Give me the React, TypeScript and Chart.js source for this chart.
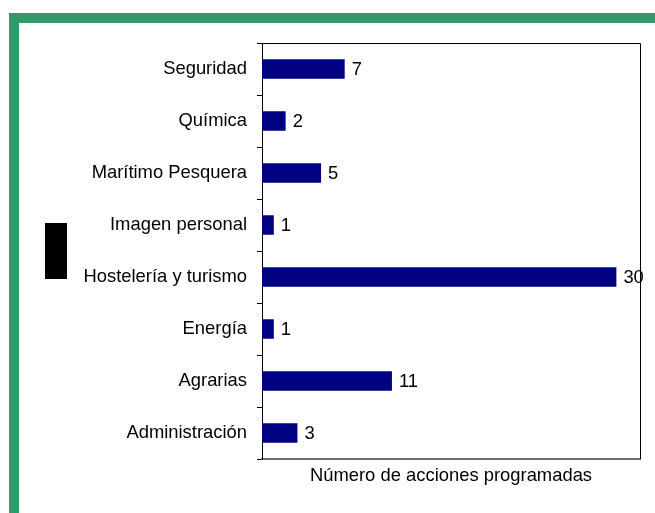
import React, { useEffect, useRef } from "react";
import { Chart, registerables } from "chart.js";

Chart.register(...registerables);

const categories = [
  "Seguridad",
  "Química",
  "Marítimo Pesquera",
  "Imagen personal",
  "Hostelería y turismo",
  "Energía",
  "Agrarias",
  "Administración",
];
const values = [7, 2, 5, 1, 30, 1, 11, 3];
const axisTitle = "Número de acciones programadas";
const xMax = 32;

const FONT = "'Liberation Sans', Arial, sans-serif";
const FS = 18.4;

const boxPlugin = {
  id: "boxAndLabels",
  afterDatasetsDraw(chart: any) {
    const { ctx, chartArea } = chart;
    ctx.save();
    ctx.strokeStyle = "#000";
    ctx.lineWidth = 1;
    ctx.beginPath();
    ctx.moveTo(Math.round(chartArea.left) + 0.5, Math.round(chartArea.top) + 0.5);
    ctx.lineTo(Math.round(chartArea.right) + 0.5, Math.round(chartArea.top) + 0.5);
    ctx.lineTo(Math.round(chartArea.right) + 0.5, Math.round(chartArea.bottom));
    ctx.stroke();
    const meta = chart.getDatasetMeta(0);
    ctx.fillStyle = "#000";
    ctx.font = `${FS}px ${FONT}`;
    ctx.textAlign = "left";
    ctx.textBaseline = "middle";
    meta.data.forEach((bar: any, i: number) => {
      ctx.fillText(String(values[i]), bar.x + 7, bar.y + 1);
    });
    ctx.restore();
  },
};

export default function App() {
  const ref = useRef<HTMLCanvasElement>(null);
  useEffect(() => {
    if (!ref.current) return;
    const chart = new Chart(ref.current, {
      type: "bar",
      data: {
        labels: categories,
        datasets: [
          {
            data: values,
            backgroundColor: "#000080",
            borderWidth: 0,
            barPercentage: 0.375,
            categoryPercentage: 1,
          },
        ],
      },
      options: {
        indexAxis: "y",
        responsive: false,
        animation: false,
        layout: { padding: { left: 0, top: 43, right: 15, bottom: 0 } },
        plugins: {
          legend: { display: false },
          tooltip: { enabled: false },
        },
        scales: {
          x: {
            min: 0,
            max: xMax,
            ticks: { display: false },
            grid: { display: false },
            border: { display: true, color: "#707070", width: 2 },
            title: {
              display: true,
              text: axisTitle,
              color: "#000",
              font: { family: FONT, size: FS },
              padding: { top: 0, bottom: 26.5 },
            },
            afterFit: (s: any) => {
              s.height = 54;
            },
          },
          y: {
            offset: true,
            grid: {
              offset: true,
              drawOnChartArea: false,
              drawTicks: true,
              tickLength: 5,
              color: "#000",
            },
            border: { display: true, color: "#000", width: 1 },
            ticks: {
              color: "#000",
              padding: 10,
              font: { family: FONT, size: FS },
            },
            afterFit: (s: any) => {
              s.width = 262;
            },
          },
        },
      },
      plugins: [boxPlugin],
    });
    return () => chart.destroy();
  }, []);

  return (
    <div style={{ position: "absolute", left: 0, top: 0, width: 655, height: 513, background: "#fff" }}>
      <div style={{ position: "absolute", left: 9, top: 13, width: 646, height: 10, background: "#339966" }} />
      <div style={{ position: "absolute", left: 9, top: 13, width: 10, height: 500, background: "#339966" }} />
      <div style={{ position: "absolute", left: 45, top: 223, width: 22, height: 56, background: "#000" }} />
      <canvas
        ref={ref}
        width={655}
        height={513}
        style={{ position: "absolute", left: 0, top: 0, width: 655, height: 513 }}
      />
    </div>
  );
}
